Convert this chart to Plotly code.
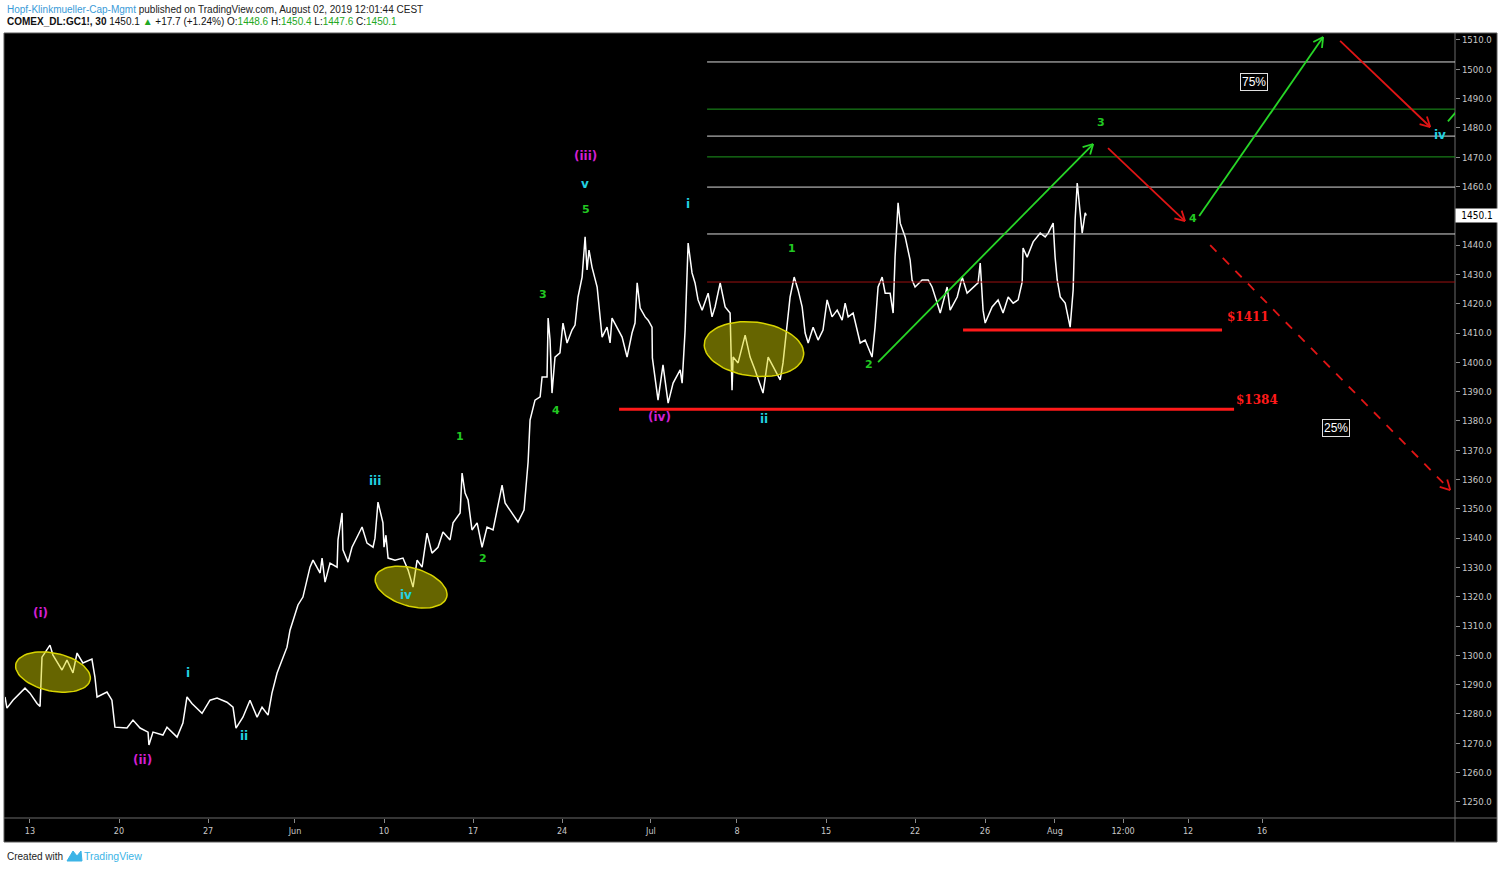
import math
import plotly.graph_objects as go

# ---------------- data (x = trading-day index from May 13, y = price) ----------------
day = [-1.41, -1.30, -0.96, -0.28, 0.00, 0.40, 0.57, 0.68, 1.13, 1.30, 1.81, 2.09, 2.43, 2.66, 2.99,
       3.50, 3.67, 3.79, 4.35, 4.63, 4.80, 5.48, 5.82, 6.22, 6.67, 6.72, 6.95, 7.51, 7.74, 8.31,
       8.64, 8.87, 9.15, 9.72, 10.17, 10.57, 11.13, 11.47, 11.64, 12.03, 12.43, 12.83, 13.11, 13.45,
       13.67, 13.96, 14.52, 14.69, 15.14, 15.42, 15.82, 15.99, 16.39, 16.50, 16.67, 16.95, 17.35,
       17.40, 17.63, 17.68, 17.97, 18.19, 18.48, 18.76, 19.04, 19.38, 19.49, 19.66, 19.94, 20.00,
       20.11, 20.23, 20.62, 21.07, 21.36, 21.64, 21.87, 22.15, 22.43, 22.71, 23.05, 23.33, 23.73,
       23.90, 24.30, 24.41, 24.58, 24.75, 24.97, 25.26, 25.54, 25.82, 26.16, 26.44, 26.67, 26.84,
       27.23, 27.57, 27.91, 28.08, 28.14, 28.25, 28.53, 28.82, 28.93, 29.21, 29.27, 29.38, 29.49,
       29.66, 29.94, 30.11, 30.34, 30.62, 30.79, 30.96, 31.19, 31.36, 31.47, 31.58, 31.75, 32.04,
       32.21, 32.32, 32.60, 32.77, 32.88, 33.17, 33.45, 33.73, 34.01, 34.18, 34.30, 34.47, 34.75,
       34.92, 35.14, 35.16, 35.31, 35.48, 35.76, 36.05, 36.33, 36.73, 36.84, 37.01, 37.18, 37.40,
       37.57, 37.74, 37.97, 38.31, 38.53, 38.70, 38.99, 39.27, 39.55, 39.66, 39.72, 40.00, 40.40,
       40.68, 40.96, 41.41, 41.70, 42.09, 42.38, 42.54, 42.77, 42.94, 43.17, 43.39, 43.62, 43.79,
       43.96, 44.24, 44.52, 44.80, 45.03, 45.31, 45.60, 45.88, 46.05, 46.22, 46.50, 46.73, 46.90,
       47.18, 47.57, 47.74, 47.91, 48.14, 48.31, 48.59, 48.76, 48.87, 49.04, 49.16, 49.44, 49.72,
       49.83, 50.00, 50.40, 50.74, 50.96, 51.25, 51.42, 51.81, 51.98, 52.38, 52.66, 52.94, 53.28,
       53.56, 53.68, 53.84, 53.96, 54.35, 54.69, 54.97, 55.26, 55.54, 55.82, 56.05, 56.10, 56.33,
       56.67, 57.07, 57.35, 57.52, 57.80, 57.91, 58.03, 58.20, 58.48, 58.76, 58.93, 59.04, 59.16,
       59.33, 59.44, 59.61, 59.67]
price = [1285.8, 1282.0, 1284.7, 1288.8, 1287.1, 1283.6, 1282.6, 1299.4, 1303.5, 1300.1, 1295.0, 1298.4,
         1294.0, 1300.8, 1297.4, 1298.7, 1292.6, 1285.8, 1287.5, 1284.7, 1275.5, 1275.2, 1277.9, 1275.2,
         1273.8, 1269.4, 1273.8, 1272.8, 1275.5, 1272.1, 1276.9, 1285.8, 1283.6, 1280.2, 1284.7, 1285.4,
         1284.0, 1282.3, 1275.2, 1278.9, 1284.7, 1278.9, 1282.3, 1279.6, 1287.1, 1294.0, 1302.8, 1308.6,
         1317.2, 1319.9, 1330.1, 1332.5, 1328.1, 1333.2, 1325.0, 1331.5, 1330.1, 1339.4, 1348.6, 1336.0,
         1331.8, 1336.9, 1340.4, 1343.8, 1338.3, 1336.9, 1340.0, 1352.3, 1345.2, 1336.9, 1341.0, 1333.2,
         1332.5, 1333.2, 1329.1, 1323.3, 1332.5, 1330.1, 1341.7, 1334.9, 1336.9, 1342.1, 1339.4, 1345.2,
         1348.6, 1362.2, 1355.4, 1353.0, 1342.8, 1345.2, 1336.9, 1343.8, 1342.8, 1350.6, 1358.1, 1352.0,
         1348.6, 1345.5, 1349.6, 1360.8, 1366.0, 1380.3, 1387.1, 1388.2, 1395.0, 1395.0, 1415.1, 1407.6,
         1389.5, 1401.8, 1403.2, 1413.4, 1406.6, 1411.0, 1412.7, 1422.3, 1429.1, 1442.8, 1431.5, 1438.3,
         1432.5, 1425.7, 1415.5, 1408.6, 1412.0, 1406.6, 1415.1, 1411.7, 1408.6, 1401.8, 1410.0, 1413.4,
         1427.1, 1418.5, 1415.5, 1414.4, 1412.0, 1401.5, 1395.0, 1387.1, 1399.1, 1386.1, 1392.9, 1397.4,
         1392.9, 1411.0, 1440.7, 1430.5, 1427.1, 1421.3, 1417.8, 1423.6, 1415.5, 1418.9, 1427.1, 1418.9,
         1416.8, 1390.5, 1401.8, 1399.8, 1409.3, 1401.8, 1397.4, 1389.5, 1401.8, 1397.4, 1394.0, 1399.8,
         1413.4, 1422.3, 1429.1, 1424.7, 1418.9, 1410.0, 1406.6, 1412.0, 1407.6, 1411.0, 1421.3, 1415.5,
         1417.8, 1414.4, 1420.2, 1415.5, 1416.8, 1411.0, 1406.6, 1407.6, 1401.8, 1412.0, 1425.7, 1429.1,
         1423.6, 1423.6, 1416.8, 1436.0, 1454.4, 1447.5, 1442.8, 1434.9, 1428.1, 1425.7, 1428.1, 1428.1,
         1425.7, 1420.2, 1416.8, 1425.7, 1417.8, 1422.3, 1429.1, 1423.6, 1425.7, 1427.1, 1433.9, 1417.8,
         1413.4, 1418.9, 1421.3, 1416.8, 1422.3, 1420.2, 1421.3, 1427.4, 1439.0, 1435.9, 1441.1, 1444.1,
         1442.8, 1444.1, 1447.5, 1435.9, 1428.1, 1422.3, 1420.2, 1412.0, 1424.7, 1448.6, 1461.2, 1452.0,
         1444.1, 1451.0, 1450.1]

tick_days = [0.0, 5.03, 10.06, 14.97, 20.0, 25.03, 30.06, 35.08, 39.94, 44.97, 50.0, 53.95, 57.9,
             61.75, 65.42, 69.6]
tick_text = ["13", "20", "27", "Jun", "10", "17", "24", "Jul", "8", "15", "22", "26", "Aug",
             "12:00", "12", "16"]
price_ticks = [1250, 1260, 1270, 1280, 1290, 1300, 1310, 1320, 1330, 1340, 1350, 1360, 1370, 1380,
               1390, 1400, 1410, 1420, 1430, 1440, 1460, 1470, 1480, 1490, 1500, 1510]

# horizontal levels
level_prices = [1502.5, 1486.4, 1477.2, 1470.1, 1459.8, 1443.8, 1427.4]
level_colors = ["#d9d9d9", "#1e9a1e", "#d9d9d9", "#1e9a1e", "#d9d9d9", "#d9d9d9", "#9b1111"]
level_start = 38.25

# support lines
support_prices = [1411.0, 1384.0]
support_start = [52.71, 33.28]
support_end = [67.34, 68.02]
support_labels = ["$1411", "$1384"]
support_label_day = [68.8, 69.3]
support_label_price = [1415.4, 1387.3]

# arrows: (x0, y0, x1, y1, color, dash)
arrows = [
    (47.91, 1400.1, 60.06, 1474.5, "#27d627", "solid"),
    (60.90, 1473.1, 65.25, 1448.2, "#e01515", "solid"),
    (66.05, 1449.9, 73.05, 1511.0, "#27d627", "solid"),
    (74.01, 1509.7, 79.10, 1480.3, "#e01515", "solid"),
    (66.67, 1440.0, 80.23, 1356.4, "#e01515", "dash"),
]

# ellipses: center day, center price, semi-axis a px, b px, angle deg
ellipses = [(1.30, 1294.3, 38, 19, 12), (21.53, 1323.3, 37, 19, 16), (40.90, 1404.5, 50, 27, 7)]

# wave labels
mag_text = ["(i)", "(ii)", "(iii)", "(iv)"]
mag_day = [0.62, 6.38, 31.41, 35.54]
mag_price = [1314.4, 1264.3, 1470.4, 1381.3]
cyan_text = ["i", "ii", "iii", "iv", "v", "i", "ii", "iv"]
cyan_day = [8.93, 12.09, 19.49, 21.24, 31.36, 37.18, 41.47, 79.66]
cyan_price = [1294.0, 1272.5, 1359.5, 1320.6, 1460.9, 1454.0, 1380.6, 1477.6]
green_text = ["1", "2", "3", "4", "5", "1", "2", "3", "4"]
green_day = [24.29, 25.59, 28.98, 29.72, 31.41, 43.05, 47.40, 60.51, 65.71]
green_price = [1374.8, 1333.2, 1423.0, 1383.7, 1452.0, 1438.7, 1399.1, 1481.7, 1449.2]

box_text = ["75%", "25%"]
box_day = [69.15, 73.79]
box_price = [1495.7, 1377.6]

last_price = 1450.1

# ---------------- layout geometry ----------------
W, H = 1500, 870
ML, MR, MT, MB = 5, 45, 35, 52
PW, PH = W - ML - MR, H - MT - MB
XR = [-1.41, 80.5]
YR = [1244.5, 1511.7]
PXD = PW / (XR[1] - XR[0])
PXP = PH / (YR[1] - YR[0])


def px2paper_x(px):
    return (px - ML) / PW


def px2paper_y(py):
    return (H - MB - py) / PH


fig = go.Figure()

# price line
fig.add_trace(go.Scatter(x=day, y=price, mode="lines", line=dict(color="#ffffff", width=1.5),
                         hoverinfo="skip", showlegend=False))

# ellipses (drawn above the line, translucent)
for cd, cp, a, b, ang in ellipses:
    t = math.radians(ang)
    xs, ys = [], []
    for k in range(73):
        th = 2 * math.pi * k / 72
        ex, ey = a * math.cos(th), b * math.sin(th)
        dx = ex * math.cos(t) - ey * math.sin(t)
        dy = ex * math.sin(t) + ey * math.cos(t)
        xs.append(cd + dx / PXD)
        ys.append(cp - dy / PXP)
    fig.add_trace(go.Scatter(x=xs, y=ys, mode="lines", fill="toself",
                             fillcolor="rgba(214,212,0,0.48)",
                             line=dict(color="#d8d400", width=1.5),
                             hoverinfo="skip", showlegend=False))

shapes = []
# background black panel (paper)
shapes.append(dict(type="rect", xref="paper", yref="paper", layer="below",
                   x0=px2paper_x(4), x1=px2paper_x(1497), y0=px2paper_y(842), y1=px2paper_y(33),
                   fillcolor="#000000", line=dict(color="#5a5a5a", width=1)))
# separators
shapes.append(dict(type="line", xref="paper", yref="paper", x0=1, x1=1,
                   y0=px2paper_y(842), y1=px2paper_y(33), line=dict(color="#6a6a6a", width=1)))
shapes.append(dict(type="line", xref="paper", yref="paper", x0=px2paper_x(4), x1=px2paper_x(1497),
                   y0=0, y1=0, line=dict(color="#6a6a6a", width=1)))

for lp, lc in zip(level_prices, level_colors):
    shapes.append(dict(type="line", xref="x", yref="y", x0=level_start, x1=XR[1], y0=lp, y1=lp,
                       line=dict(color=lc, width=1)))

for sp, s0, s1 in zip(support_prices, support_start, support_end):
    shapes.append(dict(type="line", xref="x", yref="y", x0=s0, x1=s1, y0=sp, y1=sp,
                       line=dict(color="#ff1a1a", width=3)))


def add_arrow(x0, y0, x1, y1, color, dash):
    shapes.append(dict(type="line", xref="x", yref="y", x0=x0, y0=y0, x1=x1, y1=y1,
                       line=dict(color=color, width=1.8, dash=dash)))
    dxp = (x1 - x0) * PXD
    dyp = -(y1 - y0) * PXP
    ang = math.atan2(dyp, dxp)
    L = 11
    for s in (+0.5, -0.5):
        hx = -L * math.cos(ang + s)
        hy = -L * math.sin(ang + s)
        shapes.append(dict(type="line", xref="x", yref="y", x0=x1, y0=y1,
                           x1=x1 + hx / PXD, y1=y1 - hy / PXP,
                           line=dict(color=color, width=1.8)))


for ar in arrows:
    add_arrow(*ar)

# small cut-off green segment at right edge
shapes.append(dict(type="line", xref="x", yref="y", x0=80.1, y0=1482.2, x1=81.0, y1=1488.6,
                   line=dict(color="#27d627", width=1.8)))

annotations = []
wave_font = "DejaVu Sans"
for t, d, p in zip(mag_text, mag_day, mag_price):
    annotations.append(dict(x=d, y=p, xref="x", yref="y", text="<b>%s</b>" % t, showarrow=False,
                            font=dict(family=wave_font, size=12, color="#d21fd2")))
for t, d, p in zip(cyan_text, cyan_day, cyan_price):
    annotations.append(dict(x=d, y=p, xref="x", yref="y", text="<b>%s</b>" % t, showarrow=False,
                            font=dict(family=wave_font, size=12, color="#22d0e0")))
for t, d, p in zip(green_text, green_day, green_price):
    annotations.append(dict(x=d, y=p, xref="x", yref="y", text="<b>%s</b>" % t, showarrow=False,
                            font=dict(family=wave_font, size=11, color="#22c822")))
for t, d, p in zip(support_labels, support_label_day, support_label_price):
    annotations.append(dict(x=d, y=p, xref="x", yref="y", text="<b>%s</b>" % t, showarrow=False,
                            font=dict(family="DejaVu Serif", size=12, color="#ff1a1a")))
for t, d, p in zip(box_text, box_day, box_price):
    annotations.append(dict(x=d, y=p, xref="x", yref="y", text=t, showarrow=False,
                            bordercolor="#e0e0e0", borderwidth=1, borderpad=1, bgcolor="#000000",
                            font=dict(family="Liberation Sans", size=12, color="#ffffff")))

# last price tag
annotations.append(dict(x=1.0, y=last_price, xref="paper", yref="y", xanchor="left", yanchor="middle",
                        text="%.1f" % last_price, showarrow=False, width=40, align="center",
                        bgcolor="#ffffff", borderpad=1,
                        font=dict(family="Liberation Sans Narrow, DejaVu Sans Condensed, Liberation Sans",
                                  size=10, color="#000000")))

# header
annotations.append(dict(x=0, y=px2paper_y(9), xref="paper", yref="paper", xanchor="left",
                        yanchor="middle", showarrow=False, align="left",
                        text="<span style='color:#3a9bd8'>Hopf-Klinkmueller-Cap-Mgmt</span> published on "
                             "TradingView.com, August 02, 2019 12:01:44 CEST",
                        font=dict(family="Liberation Sans", size=10, color="#222222")))
G = "#22a822"
annotations.append(dict(x=0, y=px2paper_y(22), xref="paper", yref="paper", xanchor="left",
                        yanchor="middle", showarrow=False, align="left",
                        text="<b>COMEX_DL:GC1!, 30</b> 1450.1 <span style='color:%s'>▲</span> +17.7 (+1.24%%) "
                             "O:<span style='color:%s'>1448.6</span> H:<span style='color:%s'>1450.4</span> "
                             "L:<span style='color:%s'>1447.6</span> C:<span style='color:%s'>1450.1</span>"
                             % (G, G, G, G, G),
                        font=dict(family="Liberation Sans", size=10, color="#111111")))
# footer
annotations.append(dict(x=0, y=px2paper_y(856), xref="paper", yref="paper", xanchor="left",
                        yanchor="middle", showarrow=False, align="left", text="Created with",
                        font=dict(family="Liberation Sans Narrow, Liberation Sans", size=10,
                                  color="#222222")))
annotations.append(dict(x=px2paper_x(82), y=px2paper_y(856), xref="paper", yref="paper",
                        xanchor="left", yanchor="middle", showarrow=False, align="left",
                        text="TradingView",
                        font=dict(family="Liberation Sans Narrow, Liberation Sans", size=10.5,
                                  color="#3cb4e6")))
# tiny logo
shapes.append(dict(type="path", xref="paper", yref="paper",
                   path="M %f %f L %f %f L %f %f L %f %f L %f %f Z" % (
                       px2paper_x(67), px2paper_y(861), px2paper_x(73), px2paper_y(851),
                       px2paper_x(77), px2paper_y(856), px2paper_x(81), px2paper_y(851),
                       px2paper_x(82), px2paper_y(861)),
                   fillcolor="#3cb4e6", line=dict(color="#3cb4e6", width=1)))

fig.update_layout(
    width=W, height=H,
    margin=dict(l=ML, r=MR, t=MT, b=MB),
    paper_bgcolor="#ffffff", plot_bgcolor="#000000",
    shapes=shapes, annotations=annotations,
    xaxis=dict(range=XR, showgrid=False, zeroline=False, tickmode="array", tickvals=tick_days,
               ticktext=tick_text, ticks="outside", ticklen=4, tickcolor="#8a8a8a",
               tickfont=dict(family="Liberation Sans Narrow, DejaVu Sans Condensed", size=9,
                             color="#c8c8c8"),
               showline=False, fixedrange=True),
    yaxis=dict(range=YR, side="right", showgrid=False, zeroline=False, tickmode="array",
               tickvals=price_ticks, ticktext=["%.1f" % v for v in price_ticks],
               ticks="outside", ticklen=4, tickcolor="#8a8a8a",
               tickfont=dict(family="Liberation Sans Narrow, DejaVu Sans Condensed", size=9.5,
                             color="#c8c8c8"),
               showline=False, fixedrange=True),
    showlegend=False,
)

fig.write_html("out.html", config={"displayModeBar": False},
               post_script="document.body.style.margin='0';document.body.style.padding='0';")
